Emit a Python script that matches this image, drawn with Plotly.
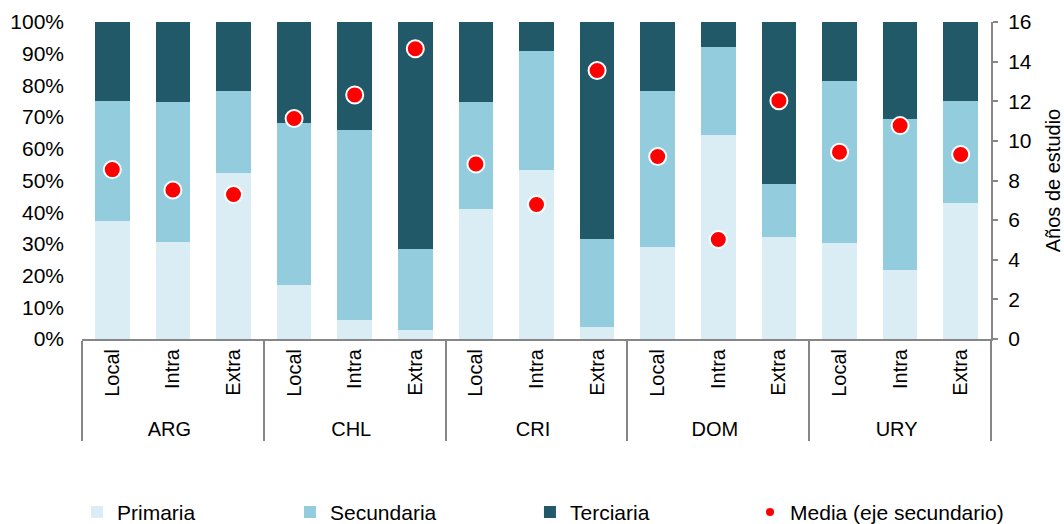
import plotly.graph_objects as go

countries = ["ARG", "CHL", "CRI", "DOM", "URY"]
types = ["Local", "Intra", "Extra"]

primaria = [37.1, 30.6, 52.5, 17.0, 5.9, 2.7, 41.0, 53.2, 3.9, 28.9, 64.5, 32.1, 30.4, 21.8, 42.8]
secundaria = [38.0, 44.2, 25.8, 51.2, 59.9, 25.8, 33.9, 37.7, 27.7, 49.4, 27.5, 16.9, 51.0, 47.6, 32.2]
terciaria = [24.9, 25.2, 21.7, 31.8, 34.2, 71.5, 25.1, 9.1, 68.4, 21.7, 8.0, 51.0, 18.6, 30.6, 25.0]
media = [8.55, 7.52, 7.29, 11.13, 12.32, 14.65, 8.83, 6.79, 13.55, 9.21, 5.02, 12.03, 9.43, 10.77, 9.31]

x_outer = [c for c in countries for _ in types]
x_inner = [t for _ in countries for t in types]
x = [x_outer, x_inner]
n_cat = len(x_inner)

FONT = "Liberation Sans, Arial, sans-serif"
fig = go.Figure()
fig.add_trace(go.Bar(x=x, y=primaria, name="Primaria", legend="legend",
                     marker=dict(color="#DAEDF4", line=dict(width=0))))
fig.add_trace(go.Bar(x=x, y=secundaria, name="Secundaria", legend="legend2",
                     marker=dict(color="#93CDDD", line=dict(width=0))))
fig.add_trace(go.Bar(x=x, y=terciaria, name="Terciaria", legend="legend3",
                     marker=dict(color="#215968", line=dict(width=0))))
fig.add_trace(go.Scatter(x=x, y=media, yaxis="y2", mode="markers", showlegend=False,
                         marker=dict(color="#FF0000", size=17, line=dict(color="white", width=2))))
# legend-only entry with a small dot, as in the reference legend
fig.add_trace(go.Scatter(x=[[countries[0]], [types[0]]], y=[None], yaxis="y2", mode="markers",
                         name="Media (eje secundario)", legend="legend4",
                         marker=dict(color="#FF0000", size=8)))

LEG_Y = -0.5465
leg_common = dict(orientation="h", xanchor="left", yanchor="middle", y=LEG_Y,
                  font=dict(size=21), itemwidth=30, bgcolor="rgba(0,0,0,0)")

fig.update_layout(
    width=1064, height=524,
    barmode="stack", bargap=0.43,
    plot_bgcolor="white", paper_bgcolor="white",
    margin=dict(l=82, r=73, t=22, b=184.5, autoexpand=False),
    font=dict(family=FONT, size=20, color="#000000"),
    xaxis=dict(type="multicategory", tickangle=-90, showline=True, linecolor="#868686", linewidth=2,
               ticks="", showdividers=True, dividercolor="#868686", dividerwidth=2,
               tickfont=dict(size=20), automargin=False, range=[-0.5, n_cat - 0.5]),
    yaxis=dict(range=[0, 100], tickvals=list(range(0, 101, 10)),
               ticktext=[f"{v}%" for v in range(0, 101, 10)], showgrid=False, zeroline=False,
               showline=False, ticks="", ticklabelstandoff=17, automargin=False,
               tickfont=dict(size=21)),
    yaxis2=dict(overlaying="y", side="right", range=[0, 16], dtick=2, showgrid=False, zeroline=False,
                showline=True, linecolor="#868686", linewidth=2, ticks="outside", ticklen=5,
                tickcolor="#868686", tickwidth=2, automargin=False, tickfont=dict(size=21),
                ticklabelstandoff=6,
                title=dict(text="Años de estudio", font=dict(size=20), standoff=15)),
    legend=dict(x=-0.0055, **leg_common),
    legend2=dict(x=0.2288, **leg_common),
    legend3=dict(x=0.4928, **leg_common),
    legend4=dict(x=0.7349, **leg_common),
)
fig.write_html("out.html", config={"displayModeBar": False},
               post_script="document.body.style.margin='0';")
